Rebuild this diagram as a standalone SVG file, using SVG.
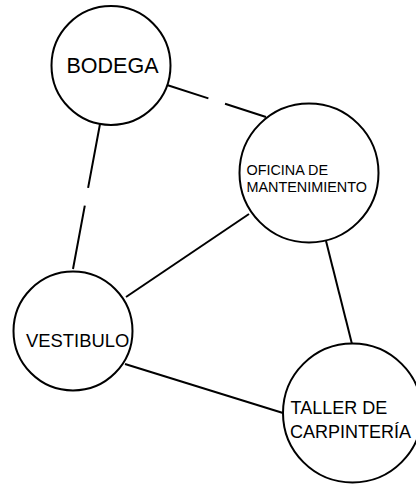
<svg xmlns="http://www.w3.org/2000/svg" width="416" height="484" viewBox="0 0 416 484">
<style>
.bg{fill:#ffffff}
.node{fill:#ffffff;stroke:#000000;stroke-width:2}
.edge{stroke:#000000;stroke-width:2;fill:none}
.lbl{font-family:"Liberation Sans",Arial,sans-serif;fill:#000000}
</style>
<rect class="bg" x="0" y="0" width="416" height="484"/>
<g id="connectors">
<line class="edge" x1="167" y1="85" x2="266" y2="117" stroke-dasharray="43.5 17.5 200"/>
<line class="edge" x1="100" y1="124" x2="73" y2="269" stroke-dasharray="65 18 200"/>
<line class="edge" x1="249" y1="214" x2="126" y2="297"/>
<line class="edge" x1="326" y1="241" x2="352" y2="344"/>
<line class="edge" x1="125" y1="364" x2="283" y2="413"/>
</g>
<g id="bodega">
<circle class="node" cx="111" cy="65.5" r="59.5"/>
<text class="lbl" x="66.5" y="72.7" font-size="21.5">BODEGA</text>
</g>
<g id="oficina">
<circle class="node" cx="309" cy="173" r="69.5"/>
<text class="lbl" x="246.5" y="175" font-size="14.4">OFICINA DE</text>
<text class="lbl" x="246.5" y="192.3" font-size="14.4">MANTENIMIENTO</text>
</g>
<g id="vestibulo">
<circle class="node" cx="73" cy="331" r="59.5"/>
<text class="lbl" x="26" y="347.3" font-size="18.4">VESTIBULO</text>
</g>
<g id="taller">
<circle class="node" cx="352.5" cy="413" r="69.5"/>
<text class="lbl" x="290.5" y="414.3" font-size="18">TALLER DE</text>
<text class="lbl" x="290" y="437.7" font-size="18">CARPINTERÍA</text>
</g>
</svg>
